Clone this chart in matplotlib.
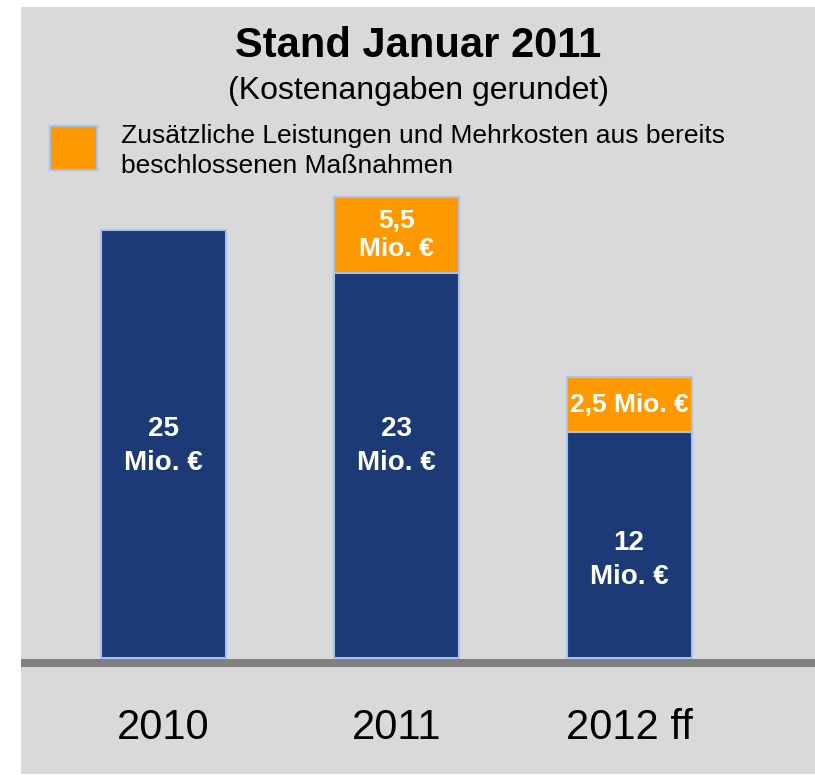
import matplotlib.pyplot as plt
from matplotlib.patches import Rectangle

plt.rcParams['font.family'] = ['Liberation Sans', 'DejaVu Sans']

# data: bar heights as drawn (Mio. EUR, rounded in the chart) and their labels
years = ['2010', '2011', '2012 ff']
base_costs = [25, 22.5, 13.2]
extra_costs = [0, 4.4, 3.2]
base_labels = ['25\nMio. €', '23\nMio. €', '12\nMio. €']
extra_labels = ['', '5,5\nMio. €', '2,5 Mio. €']

title = 'Stand Januar 2011'
subtitle = '(Kostenangaben gerundet)'
legend_text = 'Zusätzliche Leistungen und Mehrkosten aus bereits\nbeschlossenen Maßnahmen'

navy = '#1b3a76'
orange = '#ff9900'
edge = '#a9c1ec'
panel = '#d9d9d9'

W, H = 815, 775
fig = plt.figure(figsize=(W / 100, H / 100), dpi=100, facecolor='white')

# axes covers the grey panel; 1 unit = 17.12 px vertically
px_per_unit = 17.12
left, top, bottom = 21, 7, 774
base_px = 658
ax = fig.add_axes([left / W, 1 - bottom / H, (W - left) / W, (bottom - top) / H])
ax.set_facecolor(panel)
x_step = 232.75
x0 = 163.5
ax.set_xlim((left - x0) / x_step, (W - x0) / x_step)
ax.set_ylim(-(bottom - base_px) / px_per_unit, (base_px - top) / px_per_unit)
ax.axis('off')
ax.add_patch(Rectangle((0, 0), 1, 1, transform=ax.transAxes, color=panel, zorder=0))

xs = list(range(len(years)))
bw = 125 / x_step
ax.bar(xs, base_costs, width=bw, color=navy, edgecolor=edge, linewidth=1.5, zorder=3)
ax.bar(xs, extra_costs, width=bw, bottom=base_costs, color=orange,
       edgecolor=[edge if e > 0 else 'none' for e in extra_costs], linewidth=1.5, zorder=3)

# baseline
ax.axhline(-5 / px_per_unit, color='#808080', lw=8 * 0.72, zorder=2)

# value labels (vertical positions of the navy labels as laid out in the original)
base_label_y = [12.4, 12.4, 5.7]
for x, lab, y in zip(xs, base_labels, base_label_y):
    ax.text(x, y, lab, ha='center', va='center', color='white', fontsize=20,
            fontweight='bold', linespacing=1.4, zorder=4)
for x, b, e, lab in zip(xs, base_costs, extra_costs, extra_labels):
    if e > 0:
        ax.text(x, b + e / 2, lab, ha='center', va='center', color='white', fontsize=19,
                fontweight='bold', linespacing=1.2, zorder=4)

for x, yr in zip(xs, years):
    ax.text(x, -(728 - base_px) / px_per_unit, yr, ha='center', va='center',
            fontsize=30, color='black')

# titles and legend
cx = (left + W) / 2 / W
fig.text(cx, 1 - 46 / H, title, ha='center', va='center', fontsize=30, fontweight='bold')
fig.text(cx, 1 - 91 / H, subtitle, ha='center', va='center', fontsize=23)
fig.patches.append(Rectangle((50 / W, 1 - 170 / H), 47 / W, 44 / H, transform=fig.transFigure,
                             facecolor=orange, edgecolor=edge, linewidth=1.5, figure=fig))
fig.text(121 / W, 1 - 124 / H, legend_text, ha='left', va='top', fontsize=19, linespacing=1.33)

fig.savefig('out.png', dpi=100, facecolor='white')
